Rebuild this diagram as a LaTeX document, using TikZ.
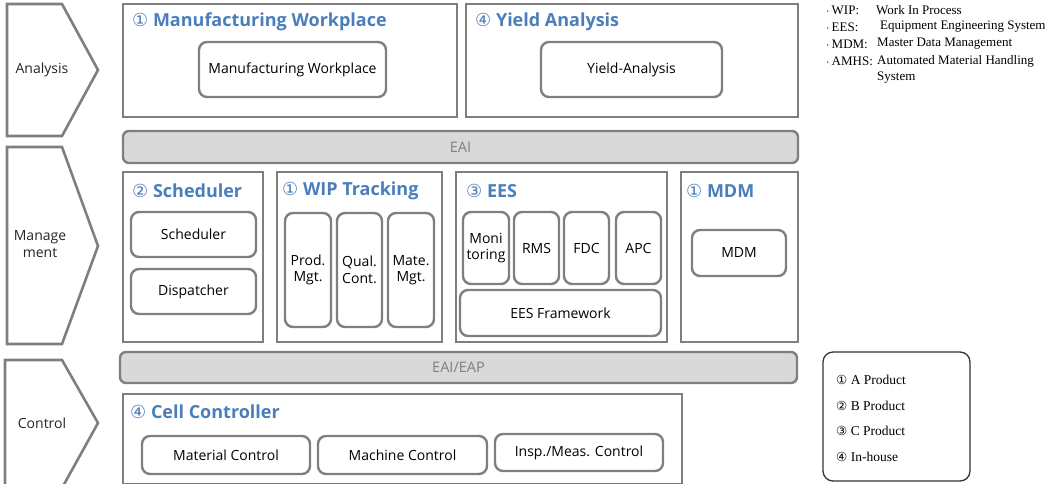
\documentclass[tikz,border=0pt]{standalone}
\usepackage{fontspec}
\setmainfont{Open Sans}
\newfontfamily\symf{DejaVu Sans}
\newfontfamily\tnr{Liberation Serif}
\definecolor{bord}{HTML}{7F7F7F}
\definecolor{ttl}{HTML}{4A7EBB}
\definecolor{barf}{HTML}{D9D9D9}
\definecolor{bartxt}{HTML}{7F7F7F}
% \bx{style}{name}{x1}{y1}{x2}{y2}{text}
\newcommand\bx[7]{%
  \pgfmathsetmacro\bxw{#5-#3}\pgfmathsetmacro\bxh{#6-#4}%
  \pgfmathsetmacro\bxcx{(#3+#5)/2}\pgfmathsetmacro\bxcy{(#4+#6)/2}%
  \node[#1, minimum width=\bxw pt, minimum height=\bxh pt] (#2) at (\bxcx,\bxcy) {#7};}
\begin{document}
\begin{tikzpicture}[x=1pt,y=-1pt,
  outer/.style={draw=bord, line width=2.6pt, inner sep=0pt, outer sep=0pt},
  inbox/.style={draw=bord, line width=2.4pt, rounded corners=8pt, inner sep=0pt, outer sep=0pt, font=\fontsize{14}{16.5}\selectfont, align=center},
  bar/.style={draw=bord, fill=barf, line width=2.4pt, rounded corners=6pt, inner sep=0pt, font=\fontsize{14.5}{16}\selectfont, text=bartxt},
  chev/.style={draw=bord, line width=2.6pt, fill=white},
  chevtxt/.style={font=\fontsize{14}{17}\selectfont, align=center, text=black!85},
  ttlf/.style={anchor=west, inner sep=0pt, text=ttl, font=\fontsize{18}{21}\selectfont\bfseries},
  legf/.style={anchor=west, inner sep=0pt, font=\tnr\fontsize{13.5}{15}\selectfont},
  abf/.style={anchor=west, inner sep=0pt, font=\tnr\fontsize{13}{15}\selectfont}
]
\useasboundingbox (0,0) rectangle (1054,484);

% chevrons
\draw[chev] (7,4) -- (62,4) -- (98,70) -- (62,136) -- (7,136) -- cycle;
\node[chevtxt] (lanalysis) at (42,70) {Analysis};
\draw[chev] (7,147) -- (62,147) -- (98,246) -- (62,344) -- (7,344) -- cycle;
\node[chevtxt] (lmanage) at (40,244) {Manage\\ment};
\draw[chev] (5,360) -- (62,360) -- (98,423) -- (62,488) -- (5,488) -- cycle;
\node[chevtxt] (lcontrol) at (42,423) {Control};

% analysis layer
\bx{outer}{mwbox}{123}{4}{457}{117}{}
\node[ttlf] (mwt) at (132,22) {{\symf\mdseries ①} Manufacturing Workplace};
\bx{inbox}{mw}{199}{42}{386}{97}{Manufacturing Workplace}

\bx{outer}{yabox}{466}{4}{798}{117}{}
\node[ttlf] (yat) at (475,22) {{\symf\mdseries ④} Yield Analysis};
\bx{inbox}{ya}{541}{42}{722}{97}{Yield-Analysis}

\bx{bar}{eai}{123}{131}{798}{163}{EAI}

% management layer
\bx{outer}{schbox}{123}{172}{263}{342}{}
\node[ttlf] (scht) at (132,191) {{\symf\mdseries ②} Scheduler};
\bx{inbox}{sch}{131}{212}{256}{257}{Scheduler}
\bx{inbox}{disp}{131}{269}{256}{314}{Dispatcher}

\bx{outer}{wipbox}{277}{172}{442}{342}{}
\node[ttlf] (wipt) at (282,191) {{\symf\mdseries ①} WIP Tracking};
\bx{inbox}{prod}{285}{213}{331}{327}{Prod.\\Mgt.}
\bx{inbox}{qual}{337}{213}{382}{327}{Qual.\\Cont.}
\bx{inbox}{mate}{388}{213}{434}{327}{Mate.\\Mgt.}

\bx{outer}{eesbox}{456}{172}{667}{342}{}
\node[ttlf] (eest) at (466,191) {{\symf\mdseries ③} EES};
\bx{inbox}{moni}{463}{212}{509}{284}{Moni\\toring}
\bx{inbox}{rms}{514}{212}{559}{284}{RMS}
\bx{inbox}{fdc}{564}{212}{609}{284}{FDC}
\bx{inbox}{apc}{616}{212}{661}{284}{APC}
\bx{inbox}{eesf}{460}{290}{661}{336}{EES Framework}

\bx{outer}{mdmbox}{681}{172}{798}{342}{}
\node[ttlf] (mdmt) at (686,191) {{\symf\mdseries ①} MDM};
\bx{inbox}{mdm}{692}{230}{786}{276}{MDM}

\bx{bar}{eaieap}{120}{352}{797}{383}{EAI/EAP}

% control layer
\bx{outer}{ccbox}{123}{394}{682}{484}{}
\node[ttlf] (cct) at (130,412) {{\symf\mdseries ④} Cell Controller};
\bx{inbox}{matc}{142}{436}{310}{474}{Material Control}
\bx{inbox}{macc}{318}{436}{487}{474}{Machine Control}
\bx{inbox}{insp}{495}{434}{663}{471}{Insp./Meas. Control}

% legend
\bx{draw=black!80, line width=1.3pt, rounded corners=10pt, inner sep=0pt}{legend}{823}{352}{970}{481}{}
\node[legf] (l1) at (836,380) {{\symf\fontsize{12.5}{14}\selectfont ①} A Product};
\node[legf] (l2) at (836,406) {{\symf\fontsize{12.5}{14}\selectfont ②} B Product};
\node[legf] (l3) at (836,431) {{\symf\fontsize{12.5}{14}\selectfont ③} C Product};
\node[legf] (l4) at (836,457) {{\symf\fontsize{12.5}{14}\selectfont ④} In-house};

% abbreviations
\node[abf] (a1) at (826,10) {$\cdot$\,WIP:};
\node[abf] (a1d) at (876,10) {Work In Process};
\node[abf] (a2) at (826,27) {$\cdot$\,EES:};
\node[abf] (a2d) at (880,27) {Equipment Engineering System};
\node[abf] (a3) at (826,44) {$\cdot$\,MDM:};
\node[abf] (a3d) at (877,44) {Master Data Management};
\node[abf] (a4) at (826,61) {$\cdot$\,AMHS:};
\node[abf] (a4d) at (877,61) {Automated Material Handling};
\node[abf] (a5d) at (877,78) {System};
\end{tikzpicture}
\end{document}
